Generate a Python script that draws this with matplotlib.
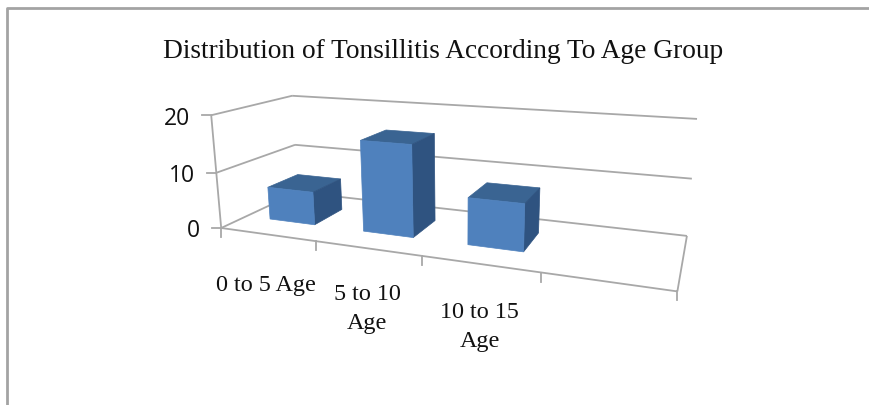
import numpy as np
import matplotlib
matplotlib.use('Agg')
import matplotlib.pyplot as plt
from matplotlib.patches import Polygon

title = 'Distribution of Tonsillitis According To Age Group'
categories = ['0 to 5 Age', '5 to 10\nAge', '10 to 15\nAge']
values = [6, 16, 8]
z_ticks = [0, 10, 20]

FRONT = '#4F81BD'
TOP = '#3A6492'
SIDE = '#2F5380'
GRID = '#A8A8A8'

# chart box (slot, depth, value) -> where it lands on the picture, for the 3d view
calib = [
	((0, 0, 0), (221, 229)), ((1, 0, 0), (316, 242)), ((2, 0, 0), (421, 258)),
	((3, 0, 0), (542, 274)), ((4, 0, 0), (677, 292)), ((0, 0, 10), (217, 173)),
	((0, 0, 20), (211, 116)), ((0, 1, 10), (295, 146)), ((0, 1, 20), (292, 97)),
	((4, 1, 0), (687, 236)), ((4, 1, 10), (692, 180)), ((4, 1, 20), (697, 120)),
]


def fit_camera(pairs):
	rows = []
	for (x, y, z), (u, v) in pairs:
		p = [x, y, z, 1]
		rows.append(p + [0, 0, 0, 0] + [-u * c for c in p])
		rows.append([0, 0, 0, 0] + p + [-v * c for c in p])
	return np.linalg.svd(np.array(rows, dtype=float))[2][-1].reshape(3, 4)


cam = fit_camera(calib)


def project(x, y, z):
	q = cam @ np.array([x, y, z, 1.0])
	return q[0] / q[2], q[1] / q[2]


fig = plt.figure(figsize=(8.7, 4.06), dpi=100)
ax = fig.add_axes([0, 0, 1, 1])
ax.set_xlim(0, 870)
ax.set_ylim(406, 0)
ax.axis('off')


def line(a, b, lw=1.3):
	ax.plot(*zip(project(*a), project(*b)), color=GRID, lw=lw, solid_capstyle='butt', zorder=1)


# frame around the chart, only top and left show
ax.plot([870, 7, 7], [9, 9, 406], color='#A3A3A3', lw=2, zorder=1)

for z in z_ticks:
	line((0, 0, z), (0, 1, z))
	line((0, 1, z), (4, 1, z))
	x0, y0 = project(0, 0, z)
	ax.plot([x0 - 9, x0], [y0, y0], color=GRID, lw=1.3, zorder=1)
	ax.text(x0 - 21, y0 + 2.5, str(z), ha='right', va='center', fontsize=16.5,
		family='Open Sans', color='#111111')

line((0, 0, 0), (0, 0, 20))
line((0, 0, 0), (4, 0, 0))
line((4, 0, 0), (4, 1, 0))
for i in range(5):
	x0, y0 = project(i, 0, 0)
	ax.plot([x0, x0], [y0, y0 + 9], color=GRID, lw=1.3, zorder=1)

# bars
x_pad_l, x_pad_r = 0.265, 0.245
y0_bar, y1_bar = 0.3, 0.7
for i, val in enumerate(values):
	xa, xb = i + x_pad_l, i + 1 - x_pad_r
	front = [project(xa, y0_bar, 0), project(xb, y0_bar, 0), project(xb, y0_bar, val), project(xa, y0_bar, val)]
	side = [project(xb, y0_bar, 0), project(xb, y1_bar, 0), project(xb, y1_bar, val), project(xb, y0_bar, val)]
	top = [project(xa, y0_bar, val), project(xb, y0_bar, val), project(xb, y1_bar, val), project(xa, y1_bar, val)]
	ax.add_patch(Polygon(top, fc=TOP, ec=TOP, lw=0.5, zorder=3))
	ax.add_patch(Polygon(side, fc=SIDE, ec=SIDE, lw=0.5, zorder=3))
	ax.add_patch(Polygon(front, fc=FRONT, ec=FRONT, lw=0.5, zorder=4))

label_y = [286, 284, 302]
label_dx = [-1, 0, 0]
for i, lab in enumerate(categories):
	ax.text(project(i + 0.5, 0, 0)[0] + label_dx[i], label_y[i], lab, ha='center', va='center' if i == 0 else 'top',
		fontsize=17.4, family='Liberation Serif', color='#111111', linespacing=1.5)

ax.text(443, 52, title, ha='center', va='center', fontsize=19.7, family='Liberation Serif', color='#111111')

fig.savefig('out.png', dpi=100)
